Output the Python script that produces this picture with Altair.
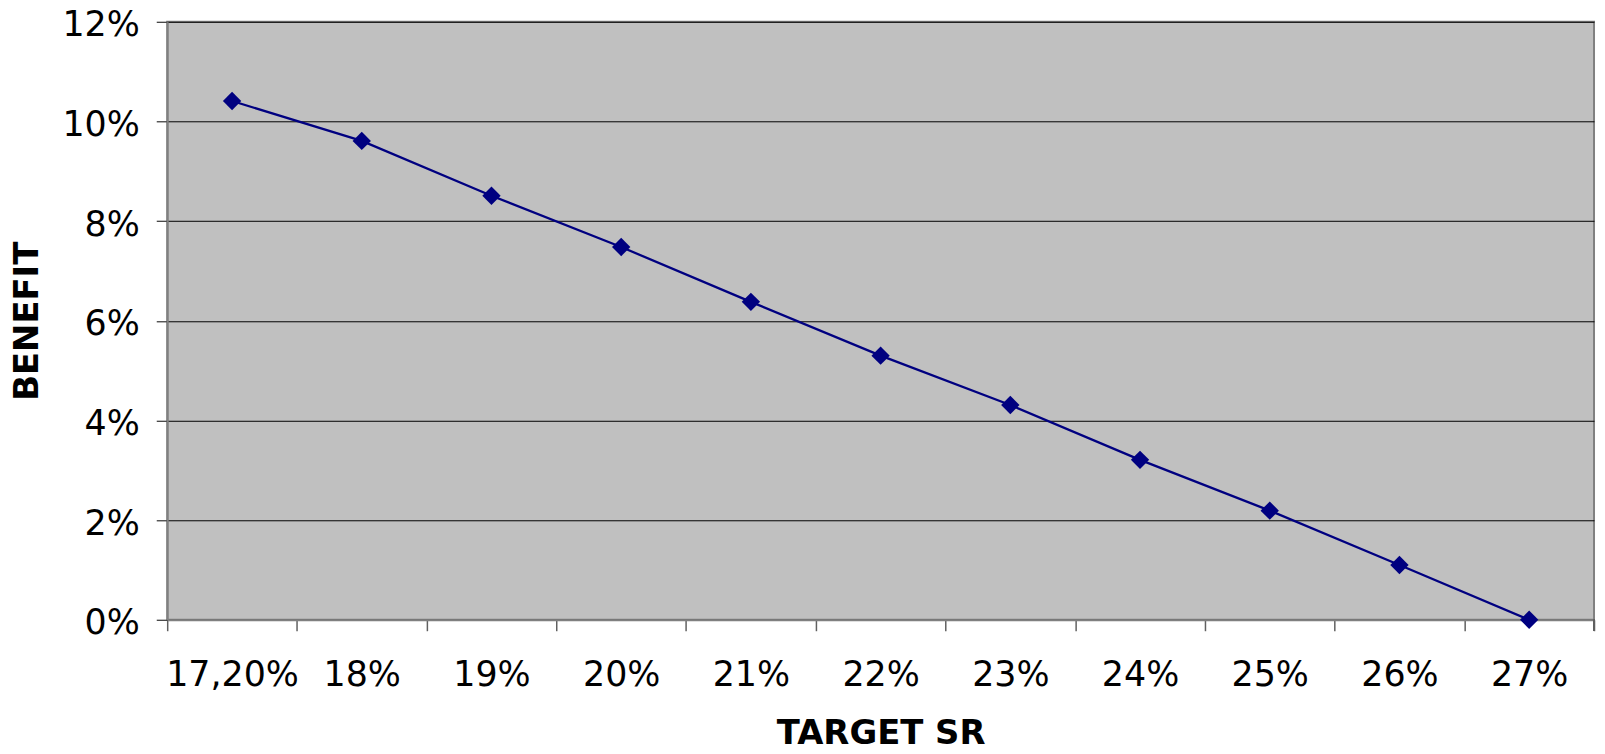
import altair as alt
import pandas as pd

categories = ["17,20%", "18%", "19%", "20%", "21%", "22%", "23%", "24%", "25%", "26%", "27%"]
benefit = [0.1041, 0.0961, 0.0851, 0.0748, 0.0638, 0.0530, 0.0431, 0.0321, 0.0219, 0.0110, 0.0]

df = pd.DataFrame({"sr": categories, "benefit": benefit})

W, H = 1434, 601
FONT = "DejaVu Sans"

x = alt.X("sr:N", sort=categories, title="TARGET SR",
          scale=alt.Scale(paddingInner=0, paddingOuter=0),
          axis=alt.Axis(labelAngle=0, labelFontSize=35, labelFont=FONT, labelColor="black",
                        labelPadding=27, tickSize=11, tickColor="#606060", tickWidth=1.5,
                        tickBand="extent", domainColor="#808080", domainWidth=2,
                        titleFontSize=34, titleFont=FONT, titleFontWeight="bold",
                        titlePadding=24, titleColor="black"))
y = alt.Y("benefit:Q", title="BENEFIT",
          scale=alt.Scale(domain=[0, 0.12]),
          axis=alt.Axis(format=".0%", values=[0, 0.02, 0.04, 0.06, 0.08, 0.10, 0.12],
                        labelFontSize=35, labelFont=FONT, labelColor="black",
                        labelPadding=17, labelOffset=3, tickSize=11, tickColor="#303030", tickWidth=1.2,
                        grid=True, gridColor="#000000", gridWidth=1,
                        domainColor="#808080", domainWidth=2,
                        titleFontSize=34, titleFont=FONT, titleFontWeight="bold",
                        titlePadding=18, titleColor="black"))

line = alt.Chart(df).mark_line(color="#000080", strokeWidth=2.3).encode(x=x, y=y)
pts = alt.Chart(df).mark_point(shape="diamond", filled=True, color="#000080", size=340, opacity=1).encode(x=x, y=y)

edge = alt.Chart(df).mark_rule(color="#606060", strokeWidth=1.5).encode(
    x=alt.value(W), y=alt.value(H), y2=alt.value(H + 11))

chart = (line + pts + edge).properties(
    width=W, height=H,
    autosize=alt.AutoSizeParams(type="none"),
    padding={"left": 160, "top": 12, "right": 3, "bottom": 125},
    background="white",
).configure_view(fill="#C0C0C0", stroke="#808080", strokeWidth=2)

chart.save("out.html", embed_options={"renderer": "svg", "actions": False})
